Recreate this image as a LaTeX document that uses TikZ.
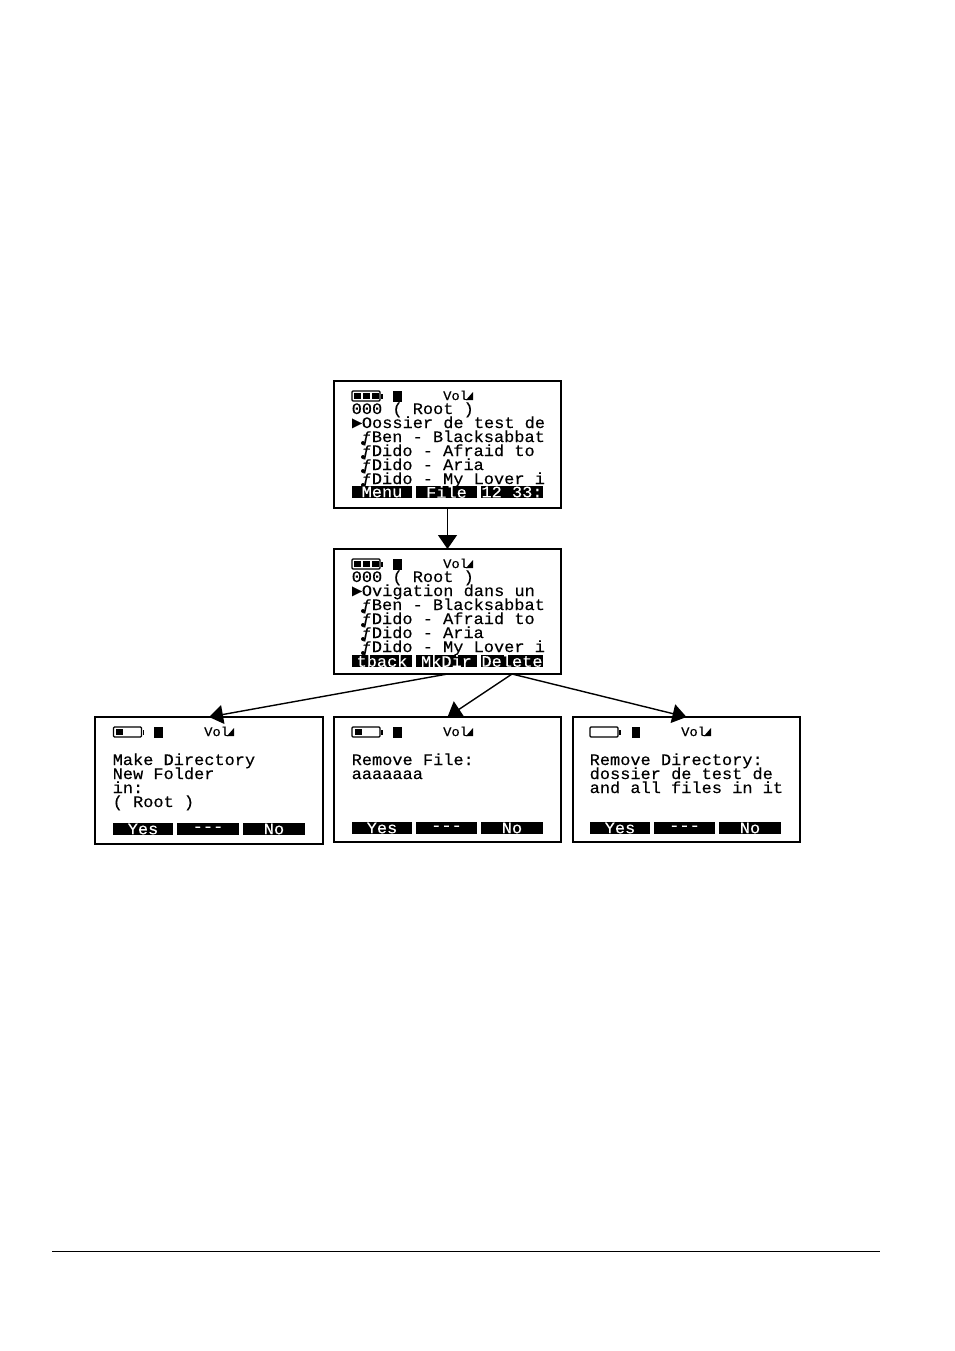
\documentclass[tikz,border=0pt]{standalone}
\usepackage{fontspec}
\newfontfamily\lcdfont[FakeStretch=1.06,FakeBold=0.25]{Liberation Mono}
\usetikzlibrary{arrows.meta}
\tikzset{
  screenbox/.style={draw=black,line width=1.5pt,fill=white,inner sep=0pt,outer sep=0pt,minimum width=227pt},
  lcdtext/.style={anchor=base west,inner sep=0pt,text=black,font=\lcdfont\fontsize{16}{16}\selectfont},
  voltext/.style={lcdtext,font=\lcdfont\fontsize{13}{13}\selectfont},
  keybar/.style={anchor=center,fill=black,text=white,inner sep=0pt,minimum height=12pt,font=\lcdfont\fontsize{16}{12}\selectfont},
  battery/.style={draw=black,line width=1.2pt,fill=white,inner sep=0pt,rounded corners=1pt,minimum width=28pt,minimum height=10pt},
  arrowline/.style={draw=black,line width=1.4pt,-{Triangle[length=14pt,width=19pt]}}
}
\begin{document}
\begin{tikzpicture}[x=1pt,y=-1pt]
\useasboundingbox (0,0) rectangle (954,1351);
\fill[white] (0,0) rectangle (954,1351);
% Drawing screens
\node[screenbox,minimum height=127pt] (browse) at (447.5,444.5) {};
\node[screenbox,minimum height=125pt] (browsemenu) at (447.5,611.5) {};
\node[screenbox,minimum width=228pt,minimum height=127pt] (makedir) at (209,780.5) {};
\node[screenbox,minimum height=125pt] (removefile) at (447.5,779.5) {};
\node[screenbox,minimum height=125pt] (removedir) at (686.5,779.5) {};
% Screen 1: browse
\node[battery] (batA) at (366,396) {};
\foreach \x in {357,366,375} \fill (\x-3.5,393) rectangle (\x+3.5,399);
\fill (381,393.5) rectangle (382.5,398.5);
\fill (393,391) rectangle (402,402);
\node[voltext] (volA) at (443,400) {Vol};
\fill (466,400) -- (473,400) -- (473,392) -- cycle;
\node[lcdtext] (lineAa) at (351.5,414) {000 ( Root )};
\begin{scope}
\clip (350,400) rectangle (544,490);
\node[lcdtext] (lineAb) at (351.5,428) {►Oossier de test de};
\foreach \n/\y/\t in {c/442/{ƒBen - Blacksabbat},d/456/{ƒDido - Afraid to},e/470/{ƒDido - Aria},f/484/{ƒDido - My Lover i}}
{
  \node[lcdtext] (lineA\n) at (361.5,\y) {\t};
  \fill (363,\y+1) circle(2pt);
}
\end{scope}
\node[keybar,minimum width=60pt] (keyAa) at (382,492) {Menu};
\node[keybar,minimum width=61pt] (keyAb) at (446.5,492) {File};
\begin{scope}
\clip (481,486) rectangle (543,498);
\node[keybar,minimum width=62pt] (keyAc) at (512,492) {12 33:};
\end{scope}
% Screen 2: browse menu
\node[battery] (batB) at (366,564) {};
\foreach \x in {357,366,375} \fill (\x-3.5,561) rectangle (\x+3.5,567);
\fill (381,561.5) rectangle (382.5,566.5);
\fill (393,559) rectangle (402,570);
\node[voltext] (volB) at (443,568) {Vol};
\fill (466,568) -- (473,568) -- (473,560) -- cycle;
\node[lcdtext] (lineBa) at (351.5,582) {000 ( Root )};
\begin{scope}
\clip (350,568) rectangle (544,658);
\node[lcdtext] (lineBb) at (351.5,596) {►Ovigation dans un};
\foreach \n/\y/\t in {c/610/{ƒBen - Blacksabbat},d/624/{ƒDido - Afraid to},e/638/{ƒDido - Aria},f/652/{ƒDido - My Lover i}}
{
  \node[lcdtext] (lineB\n) at (361.5,\y) {\t};
  \fill (363,\y+1) circle(2pt);
}
\end{scope}
\node[keybar,minimum width=60pt] (keyBa) at (382,661) {tback};
\node[keybar,minimum width=61pt] (keyBb) at (446.5,661) {MkDir};
\node[keybar,minimum width=62pt] (keyBc) at (512,661) {Delete};
% Screen 3: make directory
\node[battery] (batC) at (127.5,732) {};
\fill (116,729) rectangle (123,735);
\fill (142.5,729.5) rectangle (144,734.5);
\fill (154,727) rectangle (163,738);
\node[voltext] (volC) at (204,736) {Vol};
\fill (227,736) -- (234,736) -- (234,728) -- cycle;
\foreach \n/\y/\t in {a/765/Make Directory,b/779/New Folder,c/793/in:,d/807/( Root )}
  \node[lcdtext] (lineC\n) at (112.5,\y) {\t};
\node[keybar,minimum width=60pt] (keyCa) at (143,829) {Yes};
\node[keybar,minimum width=62pt] (keyCb) at (208,829) {---};
\node[keybar,minimum width=62pt] (keyCc) at (274,829) {No};
% Screen 4: remove file
\node[battery] (batD) at (366,732) {};
\fill (355,729) rectangle (362,735);
\fill (381,729.5) rectangle (382.5,734.5);
\fill (393,727) rectangle (402,738);
\node[voltext] (volD) at (443,736) {Vol};
\fill (466,736) -- (473,736) -- (473,728) -- cycle;
\foreach \n/\y/\t in {a/765/Remove File:,b/779/aaaaaaa}
  \node[lcdtext] (lineD\n) at (351.5,\y) {\t};
\node[keybar,minimum width=60pt] (keyDa) at (382,828) {Yes};
\node[keybar,minimum width=61pt] (keyDb) at (446.5,828) {---};
\node[keybar,minimum width=62pt] (keyDc) at (512,828) {No};
% Screen 5: remove directory
\node[battery] (batE) at (604,732) {};
\fill (619,729.5) rectangle (620.5,734.5);
\fill (632,727) rectangle (640,738);
\node[voltext] (volE) at (681,736) {Vol};
\fill (704,736) -- (711,736) -- (711,728) -- cycle;
\foreach \n/\y/\t in {a/765/Remove Directory:,b/779/dossier de test de,c/793/and all files in it}
  \node[lcdtext] (lineE\n) at (589.5,\y) {\t};
\node[keybar,minimum width=60pt] (keyEa) at (620,828) {Yes};
\node[keybar,minimum width=61pt] (keyEb) at (684.5,828) {---};
\node[keybar,minimum width=62pt] (keyEc) at (750,828) {No};
% Done with screens; drawing connectors
\coordinate (branch) at (512,674);
\draw[arrowline] (browse.south) -- (browsemenu.north);
\draw[arrowline] (browsemenu.south) -- (makedir.north);
\draw[arrowline] (branch) -- (removefile.north);
\draw[arrowline] (branch) -- (removedir.north);
% Page rule
\coordinate (ruleL) at (52,1251);
\coordinate (ruleR) at (880,1251);
\draw[black,line width=0.8pt] (ruleL) -- (ruleR);
\end{tikzpicture}
\end{document}
